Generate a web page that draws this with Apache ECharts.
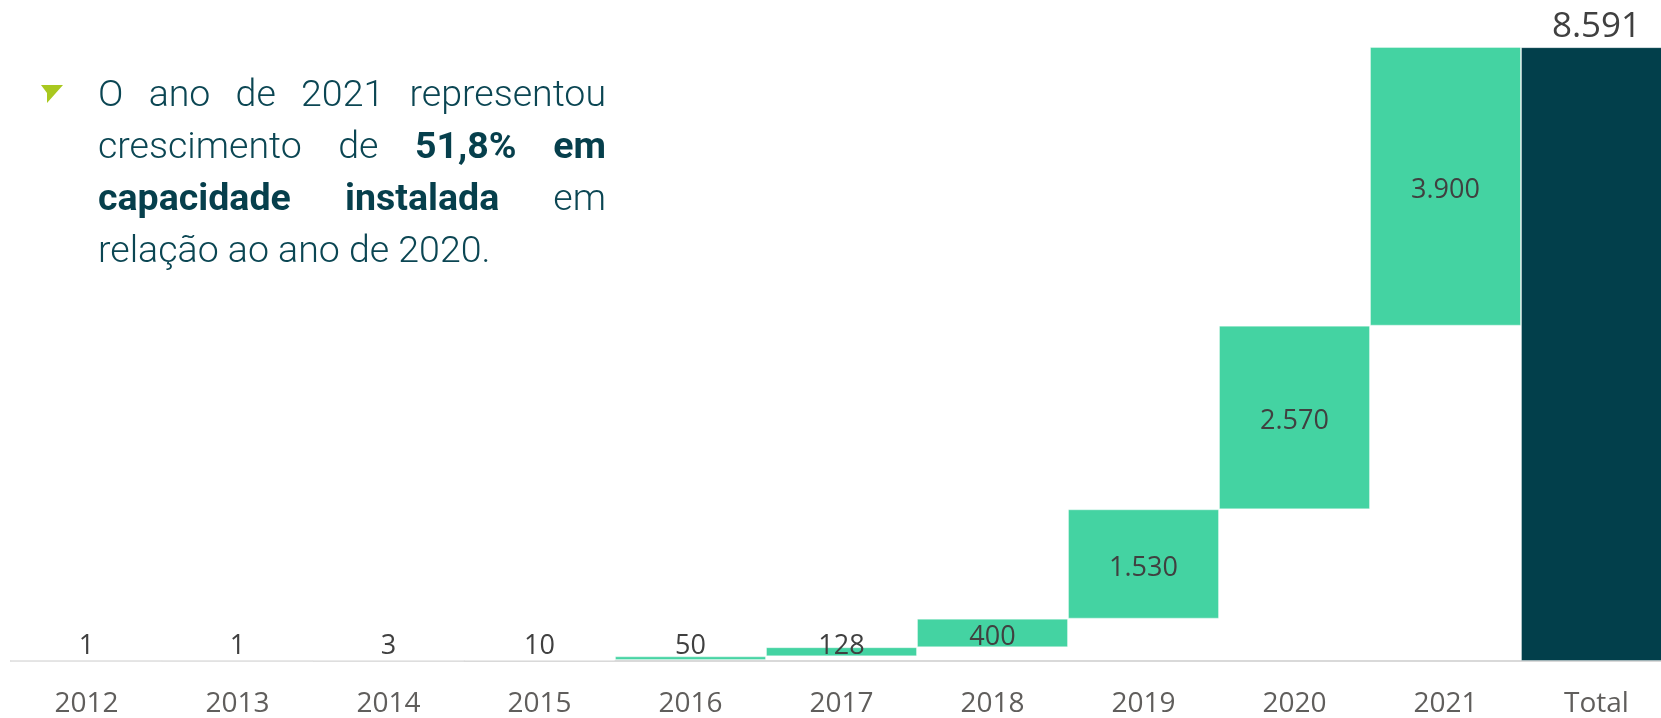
<!DOCTYPE html>
<html>
<head>
<meta charset="utf-8">
<script src="https://cdn.jsdelivr.net/npm/echarts@6/dist/echarts.min.js"></script>
<style>
  html, body { margin: 0; padding: 0; background: #fff; }
  #wrap { position: relative; width: 1661px; height: 718px; overflow: hidden; }
  #chart { position: absolute; left: 0; top: 0; width: 1661px; height: 718px; }
  #note {
    position: absolute; left: 98px; top: 67px; width: 508px;
    font-family: Roboto, sans-serif; font-weight: 300; font-size: 37.5px;
    line-height: 52px; color: #0b4653;
  }
  #note div { text-align: justify; text-align-last: justify; white-space: nowrap; }
  #note div.last { text-align-last: left; }
  #note b { font-weight: 700; color: #063f4c; }
</style>
</head>
<body>
<div id="wrap">
  <div id="chart"></div>
  <div id="note">
    <div>O ano de 2021 representou</div>
    <div>crescimento de <b>51,8% em</b></div>
    <div><b>capacidade instalada</b> em</div>
    <div class="last">relação ao ano de 2020.</div>
  </div>
</div>
<script>
// anos e acréscimos de capacidade instalada (MW)
const categories = ['2012', '2013', '2014', '2015', '2016', '2017', '2018', '2019', '2020', '2021', 'Total']
const increments = [1, 1, 3, 10, 50, 128, 400, 1530, 2570, 3900]
const totalValue = 8591

const green = '#44d3a2'
const dark = '#023f4b'

// base invisivel da cascata = acumulado antes de cada ano
let acc = 0
const baseData = increments.map(function (v) {
  const b = acc
  acc += v
  return b
})
baseData.push(0)

function fmt (v) {
  return String(v).replace(/\B(?=(\d{3})+(?!\d))/g, '.')
}

const valueData = increments.map(function (v) {
  return { value: v, itemStyle: { color: green } }
})
valueData.push({
  value: totalValue,
  itemStyle: { color: dark },
  label: { position: 'top', fontSize: 35, distance: 3 }
})

let chart = echarts.init(document.getElementById('chart'))
const option = {
  animation: false,
  // a barra Total passa da borda direita, como no original
  grid: { left: 11, width: 1661, top: 47, bottom: 57, outerBoundsMode: 'none', containLabel: false },
  xAxis: {
    type: 'category',
    data: categories,
    axisLine: { lineStyle: { color: '#d9d9d9', width: 2 } },
    axisTick: { show: false },
    axisLabel: {
      color: '#605e5c',
      fontFamily: 'Open Sans',
      fontSize: 28,
      margin: 29
    }
  },
  yAxis: {
    type: 'value',
    min: 0,
    max: 'dataMax',
    show: false,
    splitLine: { show: false }
  },
  graphic: [
    {
      type: 'polygon',
      shape: { points: [[41, 85], [63, 85], [47, 103], [47, 93]] },
      style: { fill: '#a9c81f' }
    }
  ],
  // rótulos no centro da barra, mas nunca abaixo do eixo
  labelLayout: function (p) {
    if (p.seriesIndex !== 1 || p.dataIndex === categories.length - 1) return {}
    const axisY = chart.convertToPixel({ yAxisIndex: 0 }, 0)
    const cy = p.rect.y + p.rect.height / 2 + 4
    return {
      x: p.rect.x + p.rect.width / 2,
      y: Math.min(cy, axisY - 15),
      align: 'center',
      verticalAlign: 'middle'
    }
  },
  series: [
    {
      type: 'bar',
      stack: 'w',
      data: baseData,
      itemStyle: { color: 'transparent' },
      emphasis: { disabled: true },
      silent: true,
      barCategoryGap: 0
    },
    {
      type: 'bar',
      stack: 'w',
      data: valueData,
      barCategoryGap: 0,
      itemStyle: { borderColor: 'rgba(255,255,255,0.35)', borderWidth: 1 },
      label: {
        show: true,
        position: 'inside',
        color: '#404040',
        fontFamily: 'Open Sans',
        fontSize: 27,
        formatter: function (p) { return fmt(p.value) }
      }
    }
  ]
}
chart.setOption(option, true)
</script>
</body>
</html>
